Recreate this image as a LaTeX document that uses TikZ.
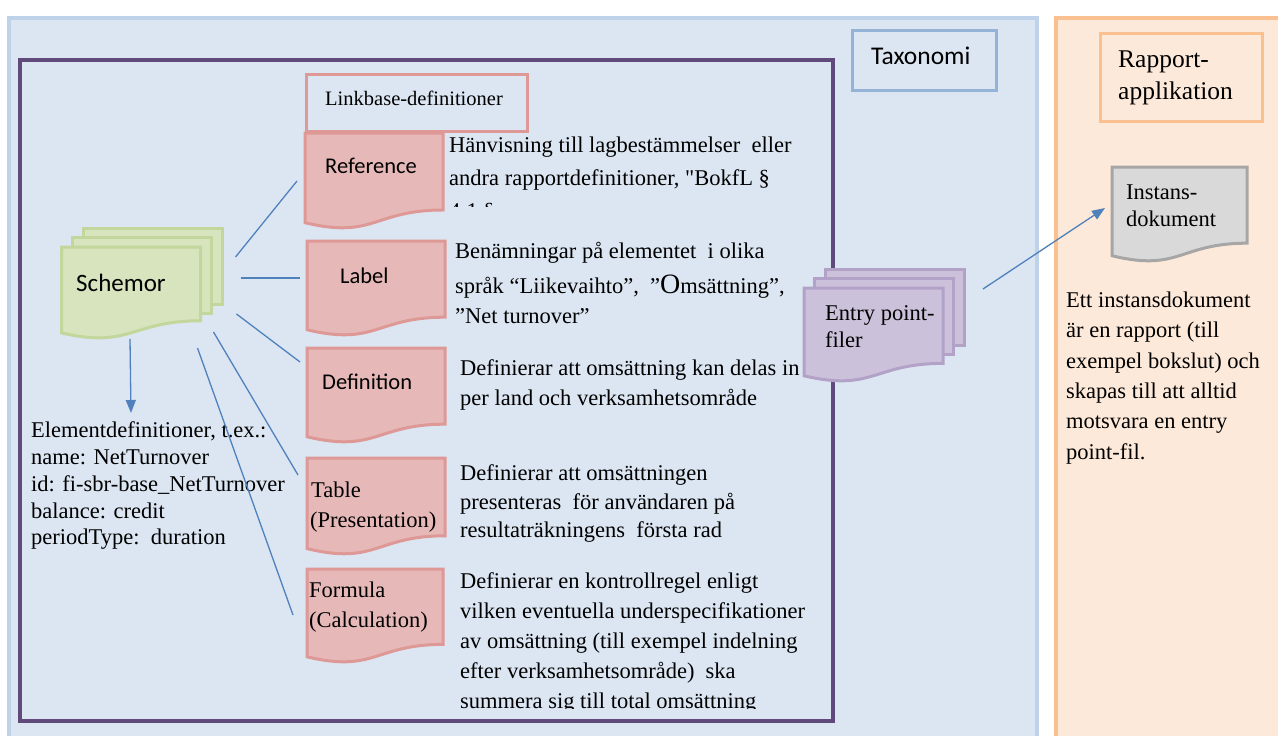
\documentclass[tikz,border=0pt]{standalone}
\usepackage{fontspec}
\setmainfont{Liberation Serif}
\newfontfamily\calfont{Carlito}
\usetikzlibrary{arrows.meta}
\definecolor{bgblue}{HTML}{DCE6F2}
\definecolor{blueedge}{HTML}{BED3EA}
\definecolor{taxedge}{HTML}{95B3D7}
\definecolor{purpleframe}{HTML}{604A7B}
\definecolor{orangefill}{HTML}{FDE9D9}
\definecolor{orangeedge}{HTML}{FAC090}
\definecolor{pinkfill}{HTML}{E6B9B8}
\definecolor{pinkedge}{HTML}{DE9896}
\definecolor{greenfill}{HTML}{D7E4BD}
\definecolor{greenedge}{HTML}{C3D69B}
\definecolor{purfill}{HTML}{CCC1DA}
\definecolor{puredge}{HTML}{B3A2C7}
\definecolor{grayfill}{HTML}{D9D9D9}
\definecolor{grayedge}{HTML}{A6A6A6}
\definecolor{conn}{HTML}{4F81BD}
\newcommand\mytm{\fontsize{22.5}{27}\selectfont}
\newcommand\mycal{\calfont\fontsize{22.5}{27}\selectfont}
\newcommand\straightquote{{\addfontfeatures{Ligatures=TeXOff}"}}
\newcommand\docshape[6]{%
  \node[inner sep=0pt, outer sep=0pt, minimum width=#5, minimum height=#6, anchor=north west] (#1) at (#3,#4) {};
  \begin{scope}[shift={(#3,#4)}]
    \draw[#2] (0,0) -- (#5,0) -- (#5,{0.802*#6}) .. controls ({0.5*#5},{0.802*#6}) and ({0.5*#5},{1.1075*#6}) .. (0,{0.934*#6}) -- cycle;
  \end{scope}}
\newcommand\backpage[6]{%
  \node[#2, inner sep=0pt, outer sep=0pt, minimum width=#5, minimum height=#6, anchor=north west] (#1) at (#3,#4) {};}
\newcommand\tl[4]{\node[tx] (#1) at (#2,#3) {#4};}
\begin{document}
\begin{tikzpicture}[x=1pt,y=-1pt,
  tx/.style={anchor=base west, inner sep=0pt, font=\mytm},
  cx/.style={anchor=base west, inner sep=0pt, font=\mycal},
  pinkdoc/.style={fill=pinkfill, draw=pinkedge, line width=3pt},
  greendoc/.style={fill=greenfill, draw=greenedge, line width=3pt},
  purdoc/.style={fill=purfill, draw=puredge, line width=3pt},
  graydoc/.style={fill=grayfill, draw=grayedge, line width=3pt},
  connline/.style={draw=conn, line width=1.3pt},
  connarrow/.style={draw=conn, line width=1.3pt, -{Triangle[length=13pt,width=10pt]}, fill=conn}]
\useasboundingbox (0,0) rectangle (1278,736);
\clip (0,0) rectangle (1278,736);
\fill[white] (0,0) rectangle (1278,736);
% regions
\draw[line width=4pt, draw=blueedge, fill=bgblue] (9,18) rectangle (1037,760);
\draw[line width=4pt, draw=orangeedge, fill=orangefill] (1056,18) rectangle (1300,760);
\draw[line width=4pt, draw=purpleframe] (20,60) rectangle (833,721);
% Taxonomi
\node[draw=taxedge, line width=2.5pt, minimum width=144, minimum height=60, inner sep=0pt, anchor=north west] (tax) at (851,29) {};
\node[cx, font=\calfont\fontsize{25.5}{30}\selectfont] (taxt) at (871,64) {Taxonomi};
% Rapport-applikation
\node[draw=orangeedge, line width=3pt, minimum width=162, minimum height=88, inner sep=0pt, anchor=north west] (rap) at (1099,32) {};
\node[tx, font=\fontsize{25.5}{30}\selectfont] (rapa) at (1118,67) {Rapport-};
\node[tx, font=\fontsize{25.5}{30}\selectfont] (rapb) at (1118,99) {applikation};
% Linkbase
\node[draw=pinkedge, line width=2.5pt, minimum width=221, minimum height=57, inner sep=0pt, anchor=north west] (lb) at (305,73) {};
\node[tx, font=\fontsize{20.5}{24}\selectfont] (lbt) at (325,105) {Linkbase-definitioner};
% descriptive texts
\begin{scope}
  \clip (440,130) rectangle (830,206);
  \tl{ra}{449}{152}{Hänvisning till lagbestämmelser\ \ eller}
  \tl{rb}{449}{185}{andra rapportdefinitioner, \straightquote BokfL §}
  \tl{rc}{449}{218}{4:1 §}
\end{scope}
\tl{la}{455}{258}{Benämningar på elementet\ \ i olika}
\tl{lbb}{455}{293}{språk “Liikevaihto”,\ \ ”{\fontsize{28}{30}\selectfont O}msättning”,}
\tl{lc}{455}{323}{”Net turnover”}
\tl{da}{460}{375}{Definierar att omsättning kan delas in}
\tl{db}{460}{405}{per land och verksamhetsområde}
\tl{ta}{460}{480}{Definierar att omsättningen}
\tl{tb}{460}{509}{presenteras\ \ för användaren på}
\tl{tc}{460}{537}{resultaträkningens\ \ första rad}
\begin{scope}
  \clip (440,560) rectangle (830,708);
  \tl{fa}{460}{588}{Definierar en kontrollregel enligt}
  \tl{fb}{460}{618}{vilken eventuella underspecifikationer}
  \tl{fc}{460}{648}{av omsättning (till exempel indelning}
  \tl{fd}{460}{678}{efter verksamhetsområde)\ \ ska}
  \tl{fe}{460}{708}{summera sig till total omsättning}
\end{scope}
\tl{ea}{31}{437}{Elementdefinitioner, t.ex.:}
\tl{eb}{31}{464}{name: NetTurnover}
\tl{ec}{31}{491}{id: fi-sbr-base\_NetTurnover}
\tl{ed}{31}{518}{balance: credit}
\tl{ee}{31}{544}{periodType:\ \ duration}
\tl{oa}{1066}{307}{Ett instansdokument}
\tl{ob}{1066}{337.5}{är en rapport (till}
\tl{oc}{1066}{368}{exempel bokslut) och}
\tl{od}{1066}{398}{skapas till att alltid}
\tl{oe}{1066}{428.5}{motsvara en entry}
\tl{of}{1066}{459}{point-fil.}
% linkbase documents
\docshape{ref}{pinkdoc}{305}{133}{138}{96}
\node[cx] (reft) at (325,173) {Reference};
\docshape{lab}{pinkdoc}{307}{241}{138}{95}
\node[cx] (labt) at (340,283) {Label};
\docshape{def}{pinkdoc}{307}{348}{138}{95}
\node[cx] (deft) at (322,389) {Definition};
\docshape{tab}{pinkdoc}{307}{458}{138}{97}
\tl{taba}{311}{497}{Table}
\tl{tabb}{310}{527}{(Presentation)}
\docshape{frm}{pinkdoc}{307}{569}{136}{94}
\tl{frma}{309}{597}{Formula}
\tl{frmb}{309}{627}{(Calculation)}
% Schemor
\backpage{sch3}{greendoc}{83.5}{228}{139}{76}
\backpage{sch2}{greendoc}{72.5}{237.5}{139}{76}
\docshape{sch}{greendoc}{61.5}{247}{139}{92}
\node[cx, font=\calfont\fontsize{25}{30}\selectfont] (scht) at (76,291) {Schemor};
% Entry point
\backpage{ent3}{purdoc}{825.5}{269}{139}{76}
\backpage{ent2}{purdoc}{814.5}{278.5}{139}{76}
\docshape{ent}{purdoc}{804}{288}{139}{94}
\tl{enta}{825}{320}{Entry point-}
\tl{entb}{825}{347}{filer}
% Instans
\docshape{inst}{graydoc}{1112}{167}{135}{95}
\tl{insta}{1126}{199}{Instans-}
\tl{instb}{1126}{226}{dokument}
% connectors
\coordinate (elemtop) at (131,413);
\draw[connline] ([shift={(35,10)}]sch.north east) -- ([shift={(-8,0)}]ref.west);
\draw[connline] ([shift={(40,31)}]sch.north east) -- ([shift={(-7,-10.5)}]lab.west);
\draw[connline] ([shift={(36,67)}]sch.north east) -- ([shift={(-7,-33.5)}]def.west);
\draw[connline] ([shift={(13,85)}]sch.north east) -- ([shift={(-9,-31.5)}]tab.west);
\draw[connline] ([shift={(-3,101)}]sch.north east) -- ([shift={(-14,-1)}]frm.west);
\draw[connarrow] ([shift={(-1,0)}]sch.south) -- (elemtop);
\draw[connarrow] ([shift={(40,1)}]ent.north east) -- ([shift={(-7,-6.5)}]inst.west);
\end{tikzpicture}
\end{document}
